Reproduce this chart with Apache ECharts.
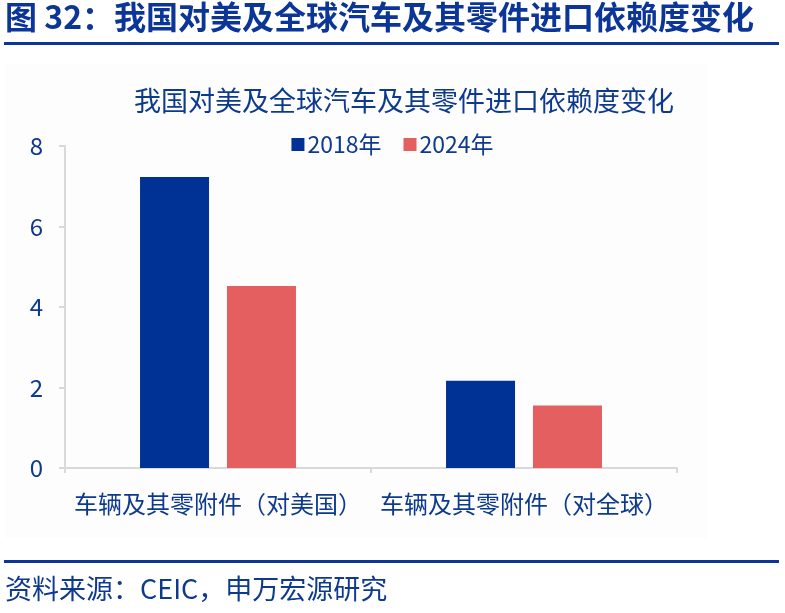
<!DOCTYPE html>
<html>
<head>
<meta charset="utf-8">
<script src="https://cdn.jsdelivr.net/npm/echarts@6/dist/echarts.min.js"></script>
<style>
html,body{margin:0;padding:0;background:#fff;}
#c{width:785px;height:613px;}
</style>
</head>
<body>
<div id="c"></div>
<script>
const categories = ['车辆及其零附件（对美国）', '车辆及其零附件（对全球）'];
const seriesNames = ['2018年', '2024年'];
const values2018 = [7.23, 2.17];
const values2024 = [4.52, 1.55];
const yTicks = [0, 2, 4, 6, 8];

const FONT = '"Noto Sans CJK SC", "Noto Sans", sans-serif';
const TXT = '#0d3a8e';
const chart = echarts.init(document.getElementById('c'));
chart.setOption({
  backgroundColor: '#ffffff',
  textStyle: { fontFamily: FONT },
  animation: false,
  graphic: [
    { type: 'rect', z: -10, shape: { x: 5, y: 64, width: 703, height: 474 }, style: { fill: '#fdfdfd' } },
    { type: 'text', left: 5, top: 1, style: { text: '图 32：我国对美及全球汽车及其零件进口依赖度变化', font: 'bold 32px ' + FONT, fill: '#0b3596' } },
    { type: 'rect', shape: { x: 4, y: 42, width: 775, height: 3 }, style: { fill: '#0b3596' } },
    { type: 'rect', shape: { x: 4, y: 560, width: 775, height: 3 }, style: { fill: '#0b3596' } },
    { type: 'text', left: 5, top: 575, style: { text: '资料来源：CEIC，申万宏源研究', font: '27px ' + FONT, fill: TXT } }
  ],
  title: {
    text: '我国对美及全球汽车及其零件进口依赖度变化',
    left: 399, top: 82, textAlign: 'center',
    textStyle: { fontFamily: FONT, fontSize: 27, fontWeight: 'normal', color: TXT }
  },
  legend: {
    data: seriesNames,
    left: 'center', top: 128,
    itemWidth: 13, itemHeight: 13, itemGap: 22,
    icon: 'rect',
    textStyle: { fontFamily: FONT, fontSize: 23, color: TXT, padding: [0, 0, 0, -2] }
  },
  grid: { left: 65, right: 108, top: 146, bottom: 145, containLabel: false },
  xAxis: {
    type: 'category',
    data: categories,
    axisLine: { lineStyle: { color: '#d9d9d9', width: 2 } },
    axisTick: { show: true, length: 5, lineStyle: { color: '#d9d9d9', width: 2 } },
    axisLabel: { fontFamily: FONT, fontSize: 24, color: TXT, margin: 24, interval: 0 }
  },
  yAxis: {
    type: 'value', min: 0, max: 8, interval: 2,
    axisLine: { show: true, lineStyle: { color: '#d9d9d9', width: 2 } },
    axisTick: { show: true, length: 6, lineStyle: { color: '#d9d9d9', width: 2 } },
    splitLine: { show: false },
    axisLabel: { fontFamily: FONT, fontSize: 24, color: TXT, margin: 22,
      formatter: v => yTicks.includes(v) ? String(v) : '' }
  },
  series: [
    { name: seriesNames[0], type: 'bar', data: values2018, barWidth: 69, barGap: '26%', itemStyle: { color: '#003296' } },
    { name: seriesNames[1], type: 'bar', data: values2024, barWidth: 69, itemStyle: { color: '#e35f60' } }
  ]
});
</script>
</body>
</html>
